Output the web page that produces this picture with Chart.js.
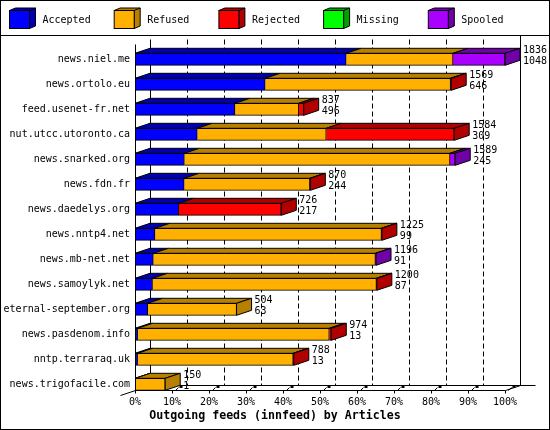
<!DOCTYPE html>
<html>
<head>
<meta charset="utf-8">
<title>Outgoing feeds (innfeed) by Articles</title>
<script src="https://cdn.jsdelivr.net/npm/chart.js@4.4.1/dist/chart.umd.min.js"></script>
<style>
html, body { margin: 0; padding: 0; background: #fff; }
#wrap { width: 550px; height: 430px; }
</style>
</head>
<body>
<div id="wrap"><canvas id="feeds" width="550" height="430"></canvas></div>
<script>
// feeds, top to bottom
var hosts = ['news.niel.me', 'news.ortolo.eu', 'feed.usenet-fr.net', 'nut.utcc.utoronto.ca',
    'news.snarked.org', 'news.fdn.fr', 'news.daedelys.org', 'news.nntp4.net', 'news.mb-net.net',
    'news.samoylyk.net', 'eternal-september.org', 'news.pasdenom.info', 'nntp.terraraq.uk',
    'news.trigofacile.com'];
var accepted = [1048, 646, 496, 309, 245, 244, 217, 99, 91, 87, 63, 13, 13, 1];
var refused  = [530, 920, 316, 640, 1318, 624, 0, 1124, 1102, 1111, 441, 951, 772, 149];
var rejected = [0, 3, 25, 635, 0, 2, 509, 2, 0, 2, 0, 10, 3, 0];
var missing  = [0, 0, 0, 0, 0, 0, 0, 0, 0, 0, 0, 0, 0, 0];
var spooled  = [258, 0, 0, 0, 26, 0, 0, 0, 3, 0, 0, 0, 0, 0];
var tickPercents = [0, 10, 20, 30, 40, 50, 60, 70, 80, 90, 100];

var totals = hosts.map(function (h, i) {
    return accepted[i] + refused[i] + rejected[i] + missing[i] + spooled[i];
});
var maxTotal = Math.max.apply(null, totals);

var MONO = '"DejaVu Sans Mono", monospace';
var DX = 15, DY = -5;   // depth of the fake 3d

function serie(label, values, face, dark) {
    return {
        label: label,
        data: values.map(function (v) { return v || null; }),
        backgroundColor: face,
        dark: dark,
        borderColor: '#000',
        borderWidth: 1,
        borderSkipped: 'start',
        barThickness: 12,
        clip: false
    };
}

var depth = {
    id: 'depth',
    beforeDatasetsDraw: function (chart) {
        var c = chart.ctx, xs = chart.scales.x, ys = chart.scales.y;
        var fb = Math.round(ys.getPixelForValue(hosts.length - 1) + 6) + 0.5;
        var ft = Math.round(ys.getPixelForValue(0) - 15) + 0.5;
        var bb = fb + DY, bt = ft + DY;
        var x0 = Math.round(xs.getPixelForValue(0)) + 0.5;
        var x1 = Math.round(xs.getPixelForValue(maxTotal)) + 0.5;
        c.save();
        c.strokeStyle = '#000';
        c.lineWidth = 1;
        tickPercents.forEach(function (p, k) {
            var xb = Math.round(xs.getPixelForValue(maxTotal * p / 100)) + 0.5 + DX;
            c.setLineDash(k === 0 || k === tickPercents.length - 1 ? [] : [5, 3]);
            c.beginPath();
            c.moveTo(xb, k === tickPercents.length - 1 ? 35.5 : bt);
            c.lineTo(xb, bb);
            c.stroke();
        });
        c.setLineDash([]);
        c.beginPath();
        c.moveTo(x0 + DX, bb); c.lineTo(x1 + 2 * DX, bb);
        c.moveTo(x0, fb); c.lineTo(x1, fb);
        c.moveTo(x1, fb); c.lineTo(x1 + DX, bb);
        c.moveTo(x0, fb); c.lineTo(x0 - DX, fb - DY);
        c.stroke();
        c.fillStyle = '#000';
        tickPercents.forEach(function (p) {
            var xf = Math.round(xs.getPixelForValue(maxTotal * p / 100)) + 0.5;
            c.beginPath();
            c.moveTo(xf, fb); c.lineTo(xf, fb + 3);
            c.moveTo(xf + 3, fb); c.lineTo(xf + 6, fb - 3);
            c.stroke();
            c.fillRect(xf + 7, fb - 5.5, 3, 3);
        });
        c.restore();
    },
    afterDatasetsDraw: function (chart) {
        var c = chart.ctx, ys = chart.scales.y, xs = chart.scales.x;
        c.save();
        c.strokeStyle = '#000';
        c.lineWidth = 1;
        hosts.forEach(function (h, j) {
            var last = null;
            chart.data.datasets.forEach(function (ds, i) {
                if (!ds.data[j]) return;
                var el = chart.getDatasetMeta(i).data[j];
                var p = el.getProps(['x', 'base', 'y', 'height'], true);
                var l = Math.min(p.x, p.base), r = Math.max(p.x, p.base);
                var t = p.y - p.height / 2, b = p.y + p.height / 2;
                c.fillStyle = ds.dark;
                c.beginPath();
                c.moveTo(l, t); c.lineTo(r, t); c.lineTo(r + DX, t + DY); c.lineTo(l + DX, t + DY);
                c.closePath(); c.fill(); c.stroke();
                last = { ds: ds, r: r, t: t, b: b, y: p.y };
            });
            if (!last) return;
            c.fillStyle = last.ds.dark;
            c.beginPath();
            c.moveTo(last.r, last.t); c.lineTo(last.r + DX, last.t + DY);
            c.lineTo(last.r + DX, last.b + DY); c.lineTo(last.r, last.b);
            c.closePath(); c.fill(); c.stroke();
            c.fillStyle = '#000';
            c.font = '10px ' + MONO;
            c.textAlign = 'left';
            c.textBaseline = 'middle';
            c.fillText(String(totals[j]), last.r + DX + 3, last.y - 9);
            c.fillText(String(accepted[j]), last.r + DX + 3, last.y + 2);
        });
        // front left edge
        var x0 = Math.round(xs.getPixelForValue(0)) + 0.5;
        c.beginPath();
        c.moveTo(x0, Math.round(ys.getPixelForValue(0) - 15) + 0.5);
        c.lineTo(x0, Math.round(ys.getPixelForValue(hosts.length - 1) + 6) + 0.5);
        c.stroke();
        c.restore();
    },
    afterDraw: function (chart) {
        var c = chart.ctx;
        c.save();
        c.strokeStyle = '#000';
        c.lineWidth = 1;
        c.strokeRect(0.5, 0.5, 549, 429);
        c.beginPath(); c.moveTo(0, 35.5); c.lineTo(550, 35.5); c.stroke();
        chart.data.datasets.forEach(function (ds, i) {
            var x = 9.5 + i * 104.7, y = 10.5;
            c.fillStyle = ds.dark;
            c.beginPath();
            c.moveTo(x, y); c.lineTo(x + 6, y - 2.5); c.lineTo(x + 26, y - 2.5); c.lineTo(x + 26, y + 15.5);
            c.lineTo(x + 20, y + 18); c.lineTo(x + 20, y); c.closePath();
            c.fill(); c.stroke();
            c.beginPath(); c.moveTo(x + 20, y); c.lineTo(x + 26, y - 2.5); c.stroke();
            c.fillStyle = ds.backgroundColor;
            c.fillRect(x, y, 20, 18);
            c.strokeRect(x, y, 20, 18);
            c.fillStyle = '#000';
            c.font = '10px ' + MONO;
            c.textAlign = 'left';
            c.textBaseline = 'middle';
            c.fillText(ds.label, x + 33, 20);
        });
        c.font = 'bold 11.6px ' + MONO;
        c.textAlign = 'center';
        c.fillText('Outgoing feeds (innfeed) by Articles', 275, 416);
        c.restore();
    }
};

var ctx = document.getElementById('feeds').getContext('2d');
var feeds = new Chart(ctx, {
    type: 'bar',
    data: {
        labels: hosts,
        datasets: [
            serie('Accepted', accepted, '#0000ff', '#0000b0'),
            serie('Refused', refused, '#ffb000', '#b88000'),
            serie('Rejected', rejected, '#ff0000', '#b00000'),
            serie('Missing', missing, '#00ff00', '#00a000'),
            serie('Spooled', spooled, '#aa00ff', '#7000a8')
        ]
    },
    options: {
        indexAxis: 'y',
        responsive: false,
        animation: false,
        layout: {
            padding: { top: 46.8, right: 45, bottom: 0, left: 0 }
        },
        plugins: {
            legend: { display: false },
            tooltip: { enabled: false }
        },
        scales: {
            x: {
                stacked: true,
                min: 0,
                max: maxTotal,
                afterBuildTicks: function (scale) {
                    scale.ticks = tickPercents.map(function (p) { return { value: maxTotal * p / 100 }; });
                },
                afterFit: function (scale) { scale.height = 33.2; },
                grid: { display: false, drawTicks: false },
                border: { display: false },
                ticks: {
                    padding: 0,
                    autoSkip: false,
                    maxRotation: 0,
                    color: '#000',
                    font: { family: MONO, size: 10 },
                    callback: function (v) { return Math.round(v / maxTotal * 100) + '%'; }
                }
            },
            y: {
                stacked: true,
                afterFit: function (scale) { scale.width = 135; },
                grid: { display: false, drawTicks: false },
                border: { display: false },
                ticks: {
                    padding: 5,
                    autoSkip: false,
                    color: '#000',
                    font: { family: MONO, size: 10 }
                }
            }
        }
    },
    plugins: [depth]
});
</script>
</body>
</html>
